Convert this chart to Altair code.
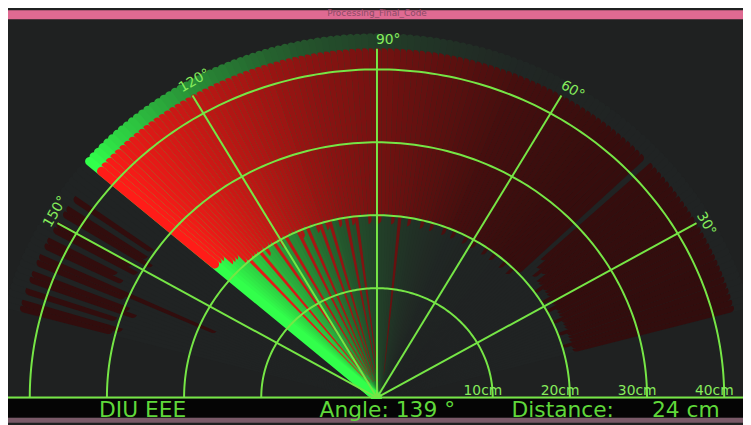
import math
import altair as alt
import pandas as pd

# ---------------- data ----------------
ANGLES = list(range(15, 166))  # servo angle of every sweep line (deg)

# object distance per angle (cm); >= 40 means "nothing in range"
DISTANCE_CM = [
    23, 23, 22, 23, 23, 23, 22, 23, 23, 23,      # 15-24
    22, 23, 23, 23, 22, 23, 23, 22, 23, 23,      # 25-34
    23, 22, 23, 23, 24, 23, 24, 25,              # 35-42
    45,                                          # 43
    22, 22, 21, 22, 22, 21, 22, 22, 22, 21,      # 44-53
    22, 22, 21, 22, 22, 22, 21, 22, 22, 21,      # 54-63
    22, 22, 22, 21, 22, 22, 21, 22, 22, 22,      # 64-73
    21, 22, 22, 21, 22, 22, 22, 21, 22, 22,      # 74-83
    3, 22, 21, 22, 22, 22,                       # 84-89
    21, 22, 22, 21, 22, 22, 22, 3, 21, 22,       # 90-99
    2, 22, 21, 22, 22, 3, 21, 22, 2, 21,         # 100-109
    22, 22, 3, 22, 21, 2, 22, 22, 22, 2,         # 110-119
    22, 21, 22, 3, 22, 22, 21, 22, 2, 22,        # 120-129
    22, 22, 3, 22, 23, 23, 23, 24, 24, 24,       # 130-139
    45, 45, 45, 45, 45,                          # 140-144
    31, 45, 31, 30, 45, 32, 31, 45, 33, 32,      # 145-154
    45, 20, 31, 45, 30, 29, 45, 31, 45, 30, 31,  # 155-165
]

# how bright each line still is (1 = just drawn, 0 = fully faded)
FADE = [
    0, 0, 0, 0, 0, 0, 0, 0.002, 0.002, 0.003, 0.003, 0.004,
    0.004, 0.005, 0.005, 0.006, 0.006, 0.007, 0.007, 0.008, 0.008, 0.009, 0.009, 0.01,   # 15-38
    0.011, 0.012, 0.013, 0.014, 0.015, 0.016, 0.018, 0.02, 0.022, 0.024,                 # 39-48
    0.026, 0.028, 0.03, 0.032, 0.035, 0.038, 0.041, 0.044, 0.047, 0.05,                  # 49-58
    0.055, 0.06, 0.065, 0.07, 0.075, 0.08, 0.085, 0.09, 0.095, 0.10,                     # 59-68
    0.11, 0.12, 0.13, 0.14, 0.15, 0.16, 0.17, 0.18, 0.19, 0.20,                          # 69-78
    0.21, 0.22, 0.23, 0.24, 0.25, 0.26, 0.27, 0.28, 0.29, 0.30,                          # 79-88
    0.31, 0.32, 0.33, 0.34, 0.35, 0.36, 0.37, 0.38, 0.39, 0.40,                          # 89-98
    0.41, 0.42, 0.43, 0.44, 0.45, 0.47, 0.48, 0.49, 0.50, 0.52,                          # 99-108
    0.53, 0.54, 0.56, 0.57, 0.58, 0.60, 0.61, 0.62, 0.64, 0.65,                          # 109-118
    0.67, 0.68, 0.70, 0.71, 0.73, 0.74, 0.76, 0.77, 0.79, 0.80,                          # 119-128
    0.82, 0.84, 0.85, 0.87, 0.88, 0.90, 0.92, 0.94, 0.96, 0.98, 1.0,                     # 129-139
    0, 0, 0, 0, 0, 0, 0, 0, 0, 0, 0, 0, 0,
    0, 0, 0, 0, 0, 0, 0, 0, 0, 0, 0, 0, 0,                                               # 140-165
]

CURRENT_ANGLE = 139
CURRENT_DISTANCE = 24
MAX_RANGE_CM = 40

RING_RADII = [117, 195, 273, 351]
RING_LABELS = ["10cm", "20cm", "30cm", "40cm"]
SPOKE_ANGLES = [30, 60, 90, 120, 150]
SPOKE_LABELS = ["30°", "60°", "90°", "120°", "150°"]

BOTTOM_LEFT_TEXT = "DIU EEE"
WINDOW_TITLE = "Processing_Final_Code"

# ---------------- geometry / style ----------------
W, H = 743, 417
CX, CY = 373, 391.5          # radar centre in chart pixels
YS = 0.945                   # vertical squeeze of the photographed screen
PX_PER_CM = 9.06
R_RED = 369
R_GREEN = 385
R_SPOKE = 373

BG = "#1f2121"
GRID = "#76e646"
LABEL_GREEN = "#86ec5c"
TEXT_GREEN = "#5fd83a"
RED, RED_FLOOR = (255, 28, 24), (50, 13, 13)
GREEN, GREEN_FLOOR = (50, 255, 75), (32, 35, 35)

x_scale = alt.Scale(domain=[-CX, W - CX], nice=False, zero=False)
y_scale = alt.Scale(domain=[-(H - CY) / YS, CY / YS], nice=False, zero=False)


def mix(c0, c1, t):
    return "#%02x%02x%02x" % tuple(int(round(a + (b - a) * t)) for a, b in zip(c0, c1))


def pol(r, a):
    th = math.radians(a)
    return r * math.cos(th), r * math.sin(th)


# sweep lines in the order they were drawn (older first)
order = [a for a in reversed(ANGLES) if a > CURRENT_ANGLE] + [a for a in ANGLES if a <= CURRENT_ANGLE]
sweep = []
for a in order:
    i = ANGLES.index(a)
    d, t = DISTANCE_CM[i], FADE[i]
    gx, gy = pol(R_GREEN, a)
    sweep.append(dict(x=0, y=0, x2=gx, y2=gy, c=mix(GREEN_FLOOR, GREEN, t ** 1.8)))
    if d < MAX_RANGE_CM:
        x0, y0 = pol(d * PX_PER_CM, a)
        x1, y1 = pol(R_RED, a)
        sweep.append(dict(x=x0, y=y0, x2=x1, y2=y1, c=mix(RED_FLOOR, RED, t)))
sweep_df = pd.DataFrame(sweep)

rings = []
for r, lab in zip(RING_RADII, RING_LABELS):
    for a in range(0, 181):
        x, y = pol(r, a)
        rings.append(dict(ring=lab, a=a, x=x, y=y))
rings_df = pd.DataFrame(rings)

spokes = []
for a in SPOKE_ANGLES:
    x, y = pol(R_SPOKE, a)
    spokes.append(dict(x=0, y=0, x2=x, y2=y))
spokes_df = pd.DataFrame(spokes)

base_df = pd.DataFrame([dict(x=-CX, x2=W - CX, y=0)])
ring_lab_df = pd.DataFrame(dict(x=RING_RADII, y=[0] * 4, t=RING_LABELS))

X = lambda f="x": alt.X(f"{f}:Q", scale=x_scale, axis=None)
Y = lambda f="y": alt.Y(f"{f}:Q", scale=y_scale, axis=None)

sweep_layer = alt.Chart(sweep_df).mark_rule(strokeWidth=9, strokeCap="round").encode(
    x=X(), y=Y(), x2="x2:Q", y2="y2:Q", color=alt.Color("c:N", scale=None)
)

ring_layer = alt.Chart(rings_df).mark_line(color=GRID, strokeWidth=2).encode(
    x=X(), y=Y(), detail="ring:N", order="a:Q"
)

spoke_layer = alt.Chart(spokes_df).mark_rule(color=GRID, strokeWidth=2).encode(
    x=X(), y=Y(), x2="x2:Q", y2="y2:Q"
)

base_layer = alt.Chart(base_df).mark_rule(color=GRID, strokeWidth=2).encode(
    x=X(), x2="x2:Q", y=Y()
)

ring_text = alt.Chart(ring_lab_df).mark_text(
    align="left", baseline="alphabetic", dx=-29.5, dy=-2.5,
    font="DejaVu Sans", fontSize=14, color=LABEL_GREEN
).encode(x=X(), y=Y(), text="t:N")

# angle labels: anchored at spoke ends, rotated like the sketch
LABEL_ROT = {30: 60, 60: 30, 90: 0, 120: 330, 150: 300}
LABEL_OFF = {30: (0, -8), 60: (-1.5, -8), 90: (-1, -5), 120: (-10.5, -3), 150: (-7, 5)}
angle_text_layers = []
for a, lab in zip(SPOKE_ANGLES, SPOKE_LABELS):
    x, y = pol(R_SPOKE, a)
    ox, oy = LABEL_OFF[a]
    df = pd.DataFrame([dict(x=x + ox, y=y - oy / YS, t=lab)])
    angle_text_layers.append(
        alt.Chart(df).mark_text(
            align="left", baseline="alphabetic", angle=LABEL_ROT[a],
            font="DejaVu Sans", fontSize=14, color=LABEL_GREEN
        ).encode(x=X(), y=Y(), text="t:N")
    )

one = pd.DataFrame({"k": [0]})
black_bar = alt.Chart(one).mark_rect(color="#050505").encode(
    x=alt.value(0), x2=alt.value(W), y=alt.value(393), y2=alt.value(412)
)
task_bar = alt.Chart(one).mark_rect(color="#7a5a68").encode(
    x=alt.value(0), x2=alt.value(W), y=alt.value(412), y2=alt.value(H)
)
title_bar = alt.Chart(one).mark_rect(color="#df6a92").encode(
    x=alt.value(0), x2=alt.value(W), y=alt.value(0), y2=alt.value(9)
)
title_text = alt.Chart(one).mark_text(
    text=WINDOW_TITLE, font="DejaVu Sans", fontSize=9, color="#8a4a66",
    align="center", baseline="alphabetic"
).encode(x=alt.value(373), y=alt.value(6))


def bottom_text(s, xpos):
    return alt.Chart(one).mark_text(
        text=s, font="DejaVu Sans", fontSize=22, color=TEXT_GREEN,
        align="left", baseline="alphabetic"
    ).encode(x=alt.value(xpos), y=alt.value(411))


texts = [
    bottom_text(BOTTOM_LEFT_TEXT, 92),
    bottom_text(f"Angle: {CURRENT_ANGLE} °", 315),
    bottom_text("Distance:", 509),
    bottom_text(f"{CURRENT_DISTANCE} cm", 651),
]

chart = alt.layer(
    sweep_layer, ring_layer, spoke_layer, base_layer, ring_text,
    *angle_text_layers, black_bar, task_bar, title_bar, title_text, *texts
).properties(
    width=W, height=H, autosize="none", padding=0, background=BG
).configure_view(strokeWidth=0)

chart.save("out.html", embed_options={"renderer": "svg", "actions": False})
